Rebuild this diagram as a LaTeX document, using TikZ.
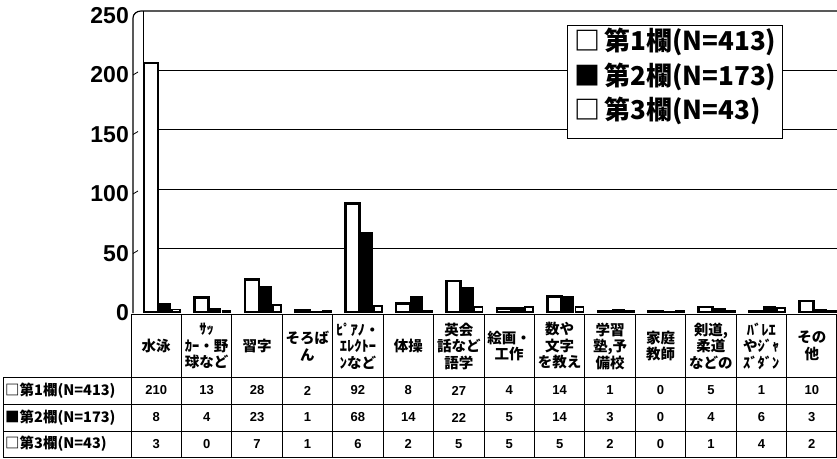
\documentclass[tikz,border=0pt]{standalone}
\usepackage{fontspec}
\setmainfont{Liberation Sans}
\newfontfamily\jp{Noto Sans CJK JP}
\begin{document}
\begin{tikzpicture}[x=1pt,y=-1pt,
  axislbl/.style={anchor=east,inner sep=0pt,font=\bfseries\fontsize{23}{23}\selectfont},
  hdr/.style={align=center,inner sep=0pt,font=\jp\bfseries\fontsize{14.5}{16.5}\selectfont},
  num/.style={inner sep=0pt,font=\bfseries\fontsize{13}{13}\selectfont},
  rowlbl/.style={anchor=west,inner sep=0pt,font=\jp\bfseries\fontsize{14.5}{14.5}\selectfont},
  leg/.style={anchor=west,inner sep=0pt,font=\jp\bfseries\fontsize{26}{26}\selectfont},
  gridl/.style={line width=1pt},
  tbl/.style={line width=1pt}]
\useasboundingbox (0,0) rectangle (837,458);
% gridlines (back wall)
\foreach \v in {50,100,150,200}{
  \draw[gridl] (143,{308-1.19*\v}) -- (837,{308-1.19*\v});
  \draw[line width=0.8pt] (138,{310-1.19*\v}) -- (133,{313-1.19*\v});
}
% frame
\draw[line width=1.2pt] (133,313) -- (133,18) to[out=90,in=180] (141,11) -- (837,11);
\draw[line width=0.8pt] (143,11) -- (143,308);
% axis labels
\foreach \v in {0,50,100,150,200,250}{
  \node[axislbl] (y\v) at (129,{313-1.19*\v}) {\v};
}
% bars
\foreach \a/\b/\c [count=\i from 0] in {210/8/3,13/4/0,28/23/7,2/1/1,92/68/6,8/14/2,27/22/5,4/5/5,14/14/5,1/3/2,0/0/0,5/4/1,1/6/4,10/3/2}{
  \pgfmathsetmacro\L{131+50.43*\i}
  \pgfmathsetmacro\ta{313-1.19*max(\a,1.5)}
  \pgfmathsetmacro\tb{313-1.19*max(\b,1.5)}
  \pgfmathsetmacro\tc{313-1.19*max(\c,1.5)}
  \fill (\L+27,313) rectangle (\L+40,\tb);
  \draw[line width=2.6pt,fill=white] (\L+13,312) rectangle (\L+27,\ta);
  \draw[line width=1.8pt,fill=white] (\L+41,312) rectangle (\L+49,\tc);
}
% floor and table
\draw[tbl] (131,314) -- (837,314);
\foreach \y in {377,404,431,457}{ \draw[tbl] (3,\y) -- (837,\y); }
\draw[tbl] (3,377) -- (3,457);
\foreach \i in {0,...,13}{ \draw[tbl] ({131+50.43*\i},314) -- ({131+50.43*\i},457); }
\draw[tbl] (836,314) -- (836,457);
% headers
\foreach \t [count=\i from 0] in {水泳,{ｻｯ\\ｶｰ・野\\球など},習字,{そろば\\ん},{ﾋﾟｱﾉ・\\ｴﾚｸﾄｰ\\ﾝなど},体操,{英会\\話など\\語学},{絵画・\\工作},{数や\\文字\\を教え},{学習\\塾,予\\備校},{家庭\\教師},{剣道,\\柔道\\などの},{ﾊﾞﾚｴ\\やｼﾞｬ\\ｽﾞﾀﾞﾝ},{その\\他}}{
  \node[hdr] (h\i) at ({131+50.43*\i+25.2},346) {\t};
}
% row labels
\node[rowlbl] (r1) at (5,390.5) {□第1欄(N=413)};
\node[rowlbl] (r2) at (5,417.5) {■第2欄(N=173)};
\node[rowlbl] (r3) at (5,444) {□第3欄(N=43)};
% data
\foreach \a/\b/\c [count=\i from 0] in {210/8/3,13/4/0,28/23/7,2/1/1,92/68/6,8/14/2,27/22/5,4/5/5,14/14/5,1/3/2,0/0/0,5/4/1,1/6/4,10/3/2}{
  \node[num] (da\i) at ({131+50.43*\i+25.2},390.5) {\a};
  \node[num] (db\i) at ({131+50.43*\i+25.2},417.5) {\b};
  \node[num] (dc\i) at ({131+50.43*\i+25.2},444) {\c};
}
% legend
\draw[line width=1pt,fill=white] (567,25) rectangle (782,138);
\node[leg] (l1) at (574,42) {□\,第1欄(N=413)};
\node[leg] (l2) at (574,77) {■\,第2欄(N=173)};
\node[leg] (l3) at (574,111) {□\,第3欄(N=43)};
\end{tikzpicture}
\end{document}
